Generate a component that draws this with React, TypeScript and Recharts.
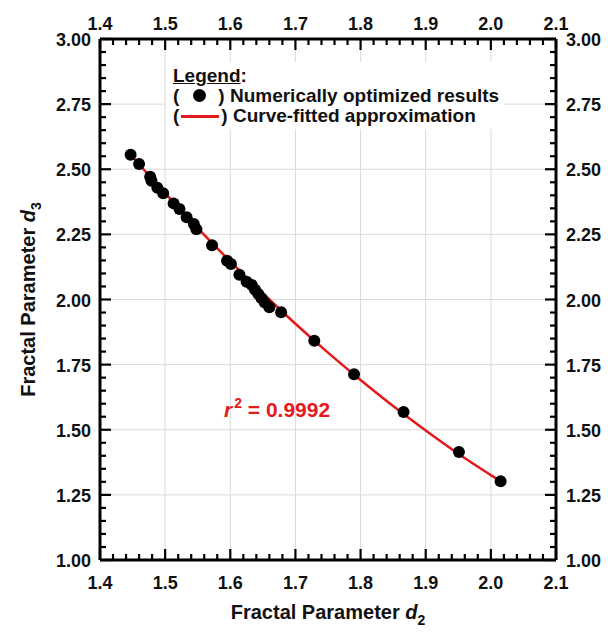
import { ComposedChart, XAxis, YAxis, CartesianGrid, Scatter, Line } from "recharts"

// numerically optimized results
const d2Values = [
  1.447, 1.46, 1.477, 1.479, 1.488, 1.497, 1.513, 1.522, 1.533, 1.544, 1.548,
  1.572, 1.595, 1.601, 1.614, 1.625, 1.633, 1.638, 1.643, 1.648, 1.653, 1.66,
  1.678, 1.729, 1.79, 1.866, 1.951, 2.015,
]
const d3Values = [
  2.556, 2.52, 2.471, 2.456, 2.429, 2.408, 2.369, 2.347, 2.316, 2.29, 2.27,
  2.208, 2.149, 2.136, 2.095, 2.068, 2.056, 2.037, 2.021, 2.005, 1.988, 1.97,
  1.951, 1.842, 1.713, 1.568, 1.415, 1.302,
]

// curve-fitted approximation
const curveD2 = [1.445, 1.5, 1.55, 1.6, 1.65, 1.7, 1.75, 1.8, 1.85, 1.9, 1.95, 2.0, 2.02]
const curveD3 = [2.561, 2.408, 2.274, 2.146, 2.024, 1.907, 1.796, 1.691, 1.591, 1.497, 1.408, 1.326, 1.294]

const xMajor = [1.4, 1.5, 1.6, 1.7, 1.8, 1.9, 2.0, 2.1]
const xMinor = [
  1.42, 1.44, 1.46, 1.48, 1.52, 1.54, 1.56, 1.58, 1.62, 1.64, 1.66, 1.68,
  1.72, 1.74, 1.76, 1.78, 1.82, 1.84, 1.86, 1.88, 1.92, 1.94, 1.96, 1.98,
  2.02, 2.04, 2.06, 2.08,
]
const yMajor = [1.0, 1.25, 1.5, 1.75, 2.0, 2.25, 2.5, 2.75, 3.0]
const yMinor = [
  1.05, 1.1, 1.15, 1.2, 1.3, 1.35, 1.4, 1.45, 1.55, 1.6, 1.65, 1.7,
  1.8, 1.85, 1.9, 1.95, 2.05, 2.1, 2.15, 2.2, 2.3, 2.35, 2.4, 2.45,
  2.55, 2.6, 2.65, 2.7, 2.8, 2.85, 2.9, 2.95,
]

const points = d2Values.map((d2, i) => ({ d2, d3: d3Values[i] }))
const curve = curveD2.map((d2, i) => ({ d2, d3: curveD3[i] }))
const xTicks = [...xMajor, ...xMinor].sort((a, b) => a - b)
const yTicks = [...yMajor, ...yMinor].sort((a, b) => a - b)

const FONT = '"Liberation Sans", Arial, Helvetica, sans-serif'
const RED = "#e4191c"
const frame = { stroke: "#000", strokeWidth: 3 }

function AxisTick(props: any) {
  const { x, y, payload, side, majors, digits } = props
  const v = payload.value
  const major = majors.some((m: number) => Math.abs(m - v) < 1e-6)
  const len = major ? 11 : 6
  const text = major ? v.toFixed(digits) : null
  const common = { fontFamily: FONT, fontWeight: 700, fontSize: 18, fill: "#111" }
  if (side === "bottom")
    return (
      <g>
        <line x1={x} y1={y} x2={x} y2={y - len} stroke="#000" strokeWidth={2.2} />
        {text && <text x={x} y={y + 29} textAnchor="middle" {...common}>{text}</text>}
      </g>
    )
  if (side === "top")
    return (
      <g>
        <line x1={x} y1={y} x2={x} y2={y + len} stroke="#000" strokeWidth={2.2} />
        {text && <text x={x} y={y - 9} textAnchor="middle" {...common}>{text}</text>}
      </g>
    )
  if (side === "left")
    return (
      <g>
        <line x1={x} y1={y} x2={x + len} y2={y} stroke="#000" strokeWidth={2.2} />
        {text && <text x={x - 9} y={y + 7} textAnchor="end" {...common}>{text}</text>}
      </g>
    )
  return (
    <g>
      <line x1={x} y1={y} x2={x - len} y2={y} stroke="#000" strokeWidth={2.2} />
      {text && <text x={x + 10} y={y + 7} textAnchor="start" {...common}>{text}</text>}
    </g>
  )
}

const bottomTitle = (p: any) => {
  const vb = p.viewBox
  return (
    <text x={vb.x + vb.width / 2} y={vb.y + 59} textAnchor="middle" fontFamily={FONT} fontWeight={700} fontSize={20} fill="#111">
      <tspan>Fractal Parameter </tspan>
      <tspan fontStyle="italic">d</tspan>
      <tspan fontSize={14} dy={6}>2</tspan>
    </text>
  )
}

const leftTitle = (p: any) => {
  const vb = p.viewBox
  const cx = 35
  const cy = vb.y + vb.height / 2
  return (
    <text x={cx} y={cy} transform={`rotate(-90 ${cx} ${cy})`} textAnchor="middle" fontFamily={FONT} fontWeight={700} fontSize={20} fill="#111">
      <tspan>Fractal Parameter </tspan>
      <tspan fontStyle="italic">d</tspan>
      <tspan fontSize={14} dy={6}>3</tspan>
    </text>
  )
}

const dot = (p: any) => <circle cx={p.cx} cy={p.cy} r={6} fill="#000" />

export default function App() {
  return (
    <div style={{ position: "absolute", left: 0, top: 0, width: 608, height: 637, background: "#fff" }}>
      <ComposedChart width={608} height={637} margin={{ top: 0, right: 0, bottom: 0, left: 0 }}>
        <CartesianGrid
          xAxisId="b"
          yAxisId="l"
          stroke="#dadada"
          strokeWidth={1}
          verticalValues={xMajor}
          horizontalValues={yMajor}
        />
        <XAxis
          xAxisId="t"
          dataKey="d2"
          orientation="top"
          type="number"
          domain={[1.4, 2.1]}
          ticks={xTicks}
          interval={0}
          height={39}
          tickSize={0}
          tickMargin={0}
          tickLine={false}
          axisLine={frame}
          allowDataOverflow
          tick={<AxisTick side="top" majors={xMajor} digits={1} />}
        />
        <XAxis
          xAxisId="b"
          dataKey="d2"
          orientation="bottom"
          type="number"
          domain={[1.4, 2.1]}
          ticks={xTicks}
          interval={0}
          height={77}
          tickSize={0}
          tickMargin={0}
          tickLine={false}
          axisLine={frame}
          allowDataOverflow
          tick={<AxisTick side="bottom" majors={xMajor} digits={1} />}
          label={bottomTitle}
        />
        <YAxis
          yAxisId="l"
          dataKey="d3"
          orientation="left"
          type="number"
          domain={[1, 3]}
          ticks={yTicks}
          interval={0}
          width={100}
          tickSize={0}
          tickMargin={0}
          tickLine={false}
          axisLine={frame}
          allowDataOverflow
          tick={<AxisTick side="left" majors={yMajor} digits={2} />}
          label={leftTitle}
        />
        <YAxis
          yAxisId="r"
          dataKey="d3"
          orientation="right"
          type="number"
          domain={[1, 3]}
          ticks={yTicks}
          interval={0}
          width={52}
          tickSize={0}
          tickMargin={0}
          tickLine={false}
          axisLine={frame}
          allowDataOverflow
          tick={<AxisTick side="right" majors={yMajor} digits={2} />}
        />
        {/* invisible copy of the fit so the top / right axes have a series */}
        <Line
          xAxisId="t"
          yAxisId="r"
          data={curve}
          dataKey="d3"
          stroke="none"
          dot={false}
          activeDot={false}
          isAnimationActive={false}
        />
        <Line
          xAxisId="b"
          yAxisId="l"
          data={curve}
          dataKey="d3"
          type="monotone"
          stroke={RED}
          strokeWidth={2.5}
          dot={false}
          activeDot={false}
          isAnimationActive={false}
        />
        <Scatter
          xAxisId="b"
          yAxisId="l"
          data={points}
          dataKey="d3"
          fill="#000"
          shape={dot}
          isAnimationActive={false}
        />
      </ComposedChart>

      <div
        style={{
          position: "absolute",
          left: 166,
          top: 62,
          width: 338,
          height: 67,
          background: "#fff",
          fontFamily: FONT,
          fontWeight: 700,
          fontSize: 19,
          lineHeight: "20px",
          color: "#111",
          paddingLeft: 7,
          paddingTop: 4,
          boxSizing: "border-box",
          whiteSpace: "nowrap",
        }}
      >
        <div>
          <span style={{ textDecoration: "underline" }}>Legend</span>:
        </div>
        <div>
          (
          <span style={{ display: "inline-block", width: 13, height: 13, borderRadius: "50%", background: "#000", margin: "0 12px 0 14px" }} />
          ) Numerically optimized results
        </div>
        <div>
          (
          <span style={{ display: "inline-block", width: 38, height: 3, background: RED, verticalAlign: "middle", margin: "0 2px 0 2px" }} />
          ) Curve-fitted approximation
        </div>
      </div>

      <div
        style={{
          position: "absolute",
          left: 224,
          top: 395,
          fontFamily: FONT,
          fontWeight: 700,
          fontSize: 21,
          color: RED,
          whiteSpace: "nowrap",
        }}
      >
        <span style={{ fontStyle: "italic" }}>r</span>
        <sup style={{ fontSize: 14, verticalAlign: "9px", marginLeft: 2 }}>2</sup>
        <span> = 0.9992</span>
      </div>
    </div>
  )
}
